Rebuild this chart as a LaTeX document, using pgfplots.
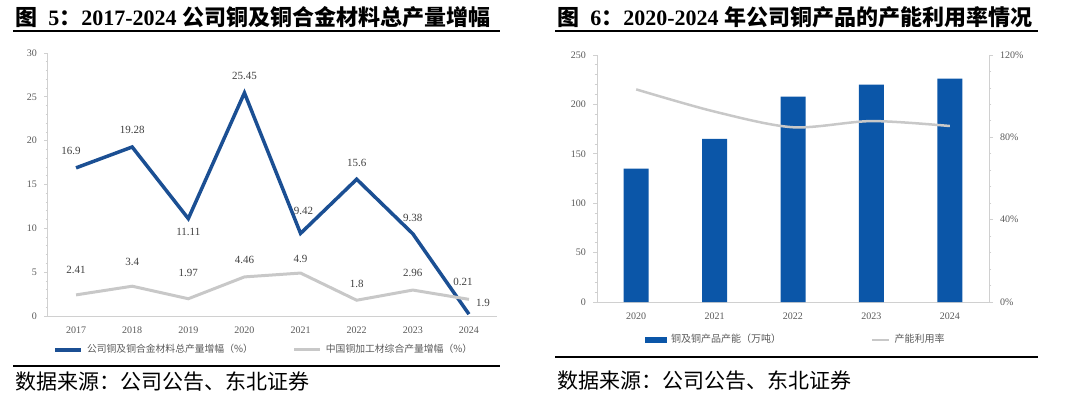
\documentclass[border=0pt]{standalone}
\usepackage{fontspec}
\usepackage{pgfplots}
\pgfplotsset{compat=1.18}
\setmainfont{Liberation Serif}
\newfontfamily\cjk{Noto Sans CJK SC}
\definecolor{navy}{HTML}{1B4F93}
\definecolor{barblue}{HTML}{0B56A8}
\definecolor{lgrey}{HTML}{C8C8C8}
\definecolor{txt}{HTML}{595959}
\definecolor{axgrey}{HTML}{D0D0D0}
\pgfplotsset{
  common/.style={
    scale only axis,
    axis line style={axgrey, line width=0.5pt},
    tick style={axgrey, line width=0.4pt},
    major tick length=2pt, minor tick length=1.2pt,
    tick align=outside,
    ticklabel style={font=\fontsize{5}{6}\selectfont, text=txt},
    /pgf/number format/assume math mode=true,
    clip=false,
  }
}
\begin{document}
\begin{tikzpicture}
\useasboundingbox (0,0) rectangle (540pt,-198.5pt);
% ---------- titles and rules ----------
\node[anchor=west, inner sep=0pt, font=\fontsize{11}{13}\selectfont] at (7.5pt,-8.5pt)
 {{\cjk\bfseries 图\enspace}{\bfseries 5}{\cjk\bfseries ：}{\bfseries 2017-2024 }{\cjk\bfseries 公司铜及铜合金材料总产量增幅}};
\node[anchor=west, inner sep=0pt, font=\fontsize{11}{13}\selectfont] at (278.5pt,-8.5pt)
 {{\cjk\bfseries 图\enspace}{\bfseries 6}{\cjk\bfseries ：}{\bfseries 2020-2024 }{\cjk\bfseries 年公司铜产品的产能利用率情况}};
\draw[line width=0.6pt] (6.5pt,-15.5pt) -- (250pt,-15.5pt);
\draw[line width=0.6pt] (277.5pt,-15.5pt) -- (519pt,-15.5pt);
\draw[line width=0.6pt] (6.5pt,-183pt) -- (250pt,-183pt);
\draw[line width=0.6pt] (277.5pt,-178.5pt) -- (519pt,-178.5pt);
\node[anchor=west, inner sep=0pt, font=\cjk\fontsize{10.5}{12}\selectfont] at (7.5pt,-191pt) {数据来源：公司公告、东北证券};
\node[anchor=west, inner sep=0pt, font=\cjk\fontsize{10.5}{12}\selectfont] at (278.5pt,-190.5pt) {数据来源：公司公告、东北证券};

% ---------- left chart ----------
\begin{axis}[common,
  at={(24pt,-158pt)}, anchor=south west,
  width=224.5pt, height=131.5pt,
  xmin=2016.5, xmax=2024.5, ymin=0, ymax=30,
  axis x line*=bottom, axis y line*=left,
  xtick={2017,...,2024}, xticklabel style={/pgf/number format/1000 sep={}},
  x tick style={draw=none},
  ytick={0,5,...,30}, minor y tick num=4,
  legend style={at={(0.483,-0.129)}, anchor=center, draw=none, fill=none,
    font=\cjk\fontsize{4.9}{6}\selectfont, text=txt, legend columns=2,
    inner sep=0pt,
    /tikz/every even column/.append style={column sep=18pt}},
  legend image code/.code={\draw[#1] (0pt,0pt) -- (13pt,0pt);},
]
\addplot[navy, line width=1.75pt, line join=miter] coordinates {
 (2017,16.9) (2018,19.28) (2019,11.11) (2020,25.45) (2021,9.42) (2022,15.6) (2023,9.38) (2024,0.21)};
\addlegendentry{公司铜及铜合金材料总产量增幅（\%）}
\addplot[lgrey, line width=1.5pt] coordinates {
 (2017,2.41) (2018,3.4) (2019,1.97) (2020,4.46) (2021,4.9) (2022,1.8) (2023,2.96) (2024,1.9)};
\addlegendentry{中国铜加工材综合产量增幅（\%）}
\begin{scope}[every node/.style={font=\fontsize{5.5}{6}\selectfont, text=black!75, inner sep=0pt}]
\node[xshift=-2.5pt, yshift=8.5pt] at (axis cs:2017,16.9) {16.9};
\node[yshift=8.5pt] at (axis cs:2018,19.28) {19.28};
\node[yshift=-6.5pt] at (axis cs:2019,11.11) {11.11};
\node[yshift=8.5pt] at (axis cs:2020,25.45) {25.45};
\node[xshift=1.5pt, yshift=11pt] at (axis cs:2021,9.42) {9.42};
\node[yshift=8pt] at (axis cs:2022,15.6) {15.6};
\node[yshift=8pt] at (axis cs:2023,9.38) {9.38};
\node[xshift=-3pt, yshift=16pt] at (axis cs:2024,0.21) {0.21};
\node[yshift=12.5pt] at (axis cs:2017,2.41) {2.41};
\node[yshift=12pt] at (axis cs:2018,3.4) {3.4};
\node[yshift=13pt] at (axis cs:2019,1.97) {1.97};
\node[yshift=8.5pt] at (axis cs:2020,4.46) {4.46};
\node[yshift=7pt] at (axis cs:2021,4.9) {4.9};
\node[yshift=8pt] at (axis cs:2022,1.8) {1.8};
\node[yshift=8.5pt] at (axis cs:2023,2.96) {2.96};
\node[xshift=7pt, yshift=-2pt] at (axis cs:2024,1.9) {1.9};
\end{scope}
\end{axis}

% ---------- right chart: bars ----------
\begin{axis}[common,
  at={(298.5pt,-151pt)}, anchor=south west,
  width=196pt, height=123.5pt,
  xmin=2019.5, xmax=2024.5, ymin=0, ymax=250,
  axis x line*=bottom, axis y line*=left,
  xtick={2020,...,2024}, xticklabel style={/pgf/number format/1000 sep={}},
  x tick style={draw=none},
  ytick={0,50,...,250}, minor y tick num=4,
  legend style={at={(0.51,-0.154)}, anchor=center, draw=none, fill=none,
    font=\cjk\fontsize{5}{6}\selectfont, text=txt, legend columns=2,
    inner sep=0pt,
    /tikz/every even column/.append style={column sep=43pt}},
]
\addplot[ybar, bar width=12.5pt, fill=barblue, draw=none,
  legend image code/.code={\fill[barblue] (0pt,-1.6pt) rectangle (11pt,1.6pt);}]
 coordinates {(2020,135) (2021,165) (2022,208) (2023,220) (2024,226)};
\addlegendentry{铜及铜产品产能（万吨）}
\addlegendimage{legend image code/.code={\draw[lgrey, line width=1.25pt] (0pt,0pt) -- (8.5pt,0pt);}}
\addlegendentry{产能利用率}
\end{axis}

% ---------- right chart: line ----------
\begin{axis}[common,
  at={(298.5pt,-151pt)}, anchor=south west,
  width=196pt, height=123.5pt,
  xmin=2019.5, xmax=2024.5, ymin=0, ymax=120,
  axis x line=none, axis y line*=right,
  ytick={0,40,80,120}, minor y tick num=4,
  yticklabel={\pgfmathprintnumber{\tick}\%},
]
\addplot[lgrey, line width=1.25pt, smooth] coordinates {
 (2020,103.3) (2021,92.5) (2022,84.9) (2023,87.9) (2024,85.5)};
\end{axis}
\end{tikzpicture}
\end{document}
